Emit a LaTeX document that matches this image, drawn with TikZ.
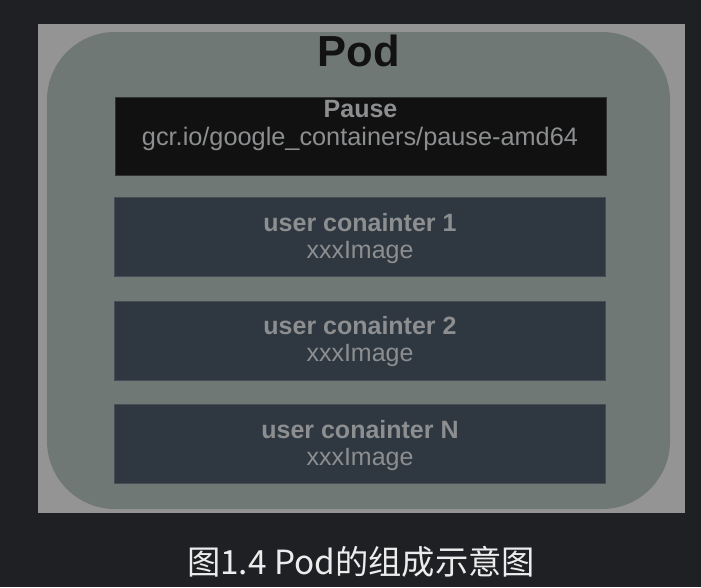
\documentclass[tikz,border=0pt]{standalone}
\usepackage{fontspec}
\setmainfont{Liberation Sans}
\newfontfamily\cjkfont{Noto Sans CJK SC}
\definecolor{pagebg}{HTML}{1F2023}
\definecolor{framegray}{HTML}{949494}
\definecolor{podgray}{HTML}{707875}
\definecolor{pausefill}{HTML}{111111}
\definecolor{userfill}{HTML}{2F3841}
\definecolor{boxtext}{HTML}{8C8E90}
\tikzset{
  ctrbox/.style={draw=#1!70!gray, line width=1pt, minimum width=491pt, minimum height=79pt, inner sep=0pt},
  boxlabel/.style={text=boxtext, font=\fontsize{25}{27}\selectfont, anchor=base, inner sep=0pt},
}
\begin{document}
\begin{tikzpicture}[x=1pt,y=-1pt]
  \useasboundingbox[fill=pagebg] (0,0) rectangle (701,587);
  \fill[framegray] (38,24) rectangle (685,513);
  \fill[podgray, rounded corners=68pt] (47,32) rectangle (670,509);
  \node[font=\fontsize{43.5}{43.5}\selectfont\bfseries, text=black!93, anchor=base, inner sep=0pt] (podtitle) at (358.5,66) {Pod};
  % pause container
  \node[ctrbox=pausefill, fill=pausefill, minimum height=78pt] (pause) at (360.5,136) {};
  \node[boxlabel, font=\fontsize{25}{27}\selectfont\bfseries] (pausename) at (360.5,117) {Pause};
  \node[boxlabel, font=\fontsize{25.3}{27}\selectfont] (pauseimage) at (360,145) {gcr.io/google\_containers/pause-amd64};
  % user containers
  \foreach \y/\n in {237/1, 340.5/2, 444/N} {
    \node[ctrbox=userfill, fill=userfill] (user\n) at (360,\y) {};
    \node[boxlabel, font=\fontsize{25}{27}\selectfont\bfseries] (username\n) at ([yshift=-34pt]user\n.north) {user conainter \n};
    \node[boxlabel] (userimage\n) at ([yshift=-61pt]user\n.north) {xxxImage};
  }
  \node[font=\cjkfont\fontsize{33.3}{33.3}\selectfont, text=white!85!gray, anchor=base, inner sep=0pt] (caption) at (361,574) {图1.4 Pod的组成示意图};
\end{tikzpicture}
\end{document}
